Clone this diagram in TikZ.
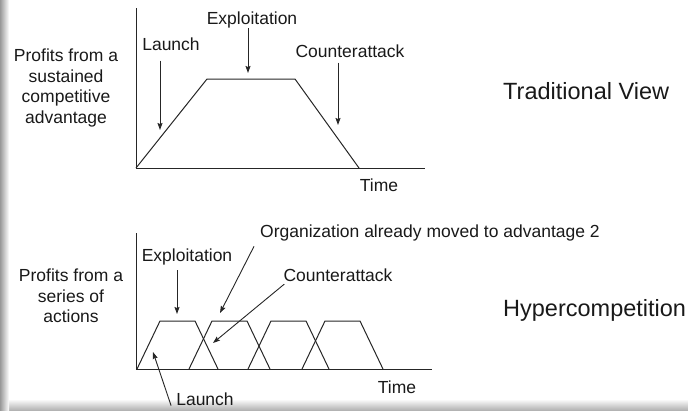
\documentclass[tikz,border=0pt]{standalone}
\usepackage{fontspec}
\setmainfont{Liberation Sans}
\usetikzlibrary{arrows.meta}

\begin{document}
\begin{tikzpicture}[x=1pt, y=-1pt,
    lbl/.style={font=\fontsize{17.5}{20.5}\selectfont, inner sep=0pt, text=black!90},
    ttl/.style={font=\fontsize{23.5}{28}\selectfont, inner sep=0pt, anchor=west, text=black!90},
    ptr/.style={-{Stealth[length=7pt, width=5pt, inset=1pt]}, line width=0.9pt, draw=black!85},
    curve/.style={line width=1pt, draw=black!85}]
    \def\trap#1{
        \draw[curve] (#1,369) -- ++(23,-48) -- ++(35,0) -- ++(23,48);
    }

    \useasboundingbox (0,0) rectangle (688,410);

    % Slide shadow
    \shade[top color=white, bottom color=gray!60] (0,399) rectangle (688,410);
    \shade[left color=gray!80, right color=white] (0,0) rectangle (9,410);

    % Traditional View
    \coordinate (o1) at (136,168);
    \draw[curve] (136,8) -- (o1) -- (425,168);
    \draw[curve] (o1) -- (207,79) -- (295,79) -- (359,168);

    \node[lbl, align=center] (prof1) at (66,88) {Profits from a\\sustained\\competitive\\advantage};
    \node[lbl] (launch1) at (171,44) {Launch};
    \node[lbl] (expl1) at (252,20) {Exploitation};
    \node[lbl] (count1) at (350,51) {Counterattack};
    \node[lbl] (time1) at (379,185) {Time};
    \node[ttl] (trad) at (503,91) {Traditional View};

    \coordinate (l1) at (160,130);
    \coordinate (e1) at (248,73);
    \coordinate (c1) at (338,125);
    \draw[ptr, shorten <=10pt] (launch1.south -| l1) -- (l1);
    \draw[ptr] (expl1.south -| e1) -- (e1);
    \draw[ptr, shorten <=5pt] (count1.south -| c1) -- (c1);

    % Hypercompetition
    \coordinate (o2) at (136,369);
    \draw[curve] (136,233) -- (o2) -- (432,369);
    \trap{137}
    \trap{189}
    \trap{248}
    \trap{302}

    \node[lbl, align=center] (prof2) at (71,296) {Profits from a\\series of\\actions};
    \node[lbl] (expl2) at (187,257) {Exploitation};
    \node[lbl, anchor=west] (org) at (260,233) {Organization already moved to advantage 2};
    \node[lbl] (count2) at (338,275) {Counterattack};
    \node[lbl] (launch2) at (205,399) {Launch};
    \node[lbl] (time2) at (397,387) {Time};
    \node[ttl] (hyper) at (503,310) {Hypercompetition};

    \coordinate (e2) at (177,314);
    \coordinate (g2) at (220,313);
    \coordinate (c2) at (213,343);
    \coordinate (l2) at (153,352);
    \draw[ptr, shorten <=5pt] (expl2.south -| e2) -- (e2);
    \draw[ptr] ([xshift=-6pt, yshift=-5pt]org.south west) -- (g2);
    \draw[ptr, shorten <=4pt] ([xshift=4pt]count2.south west) -- (c2);
    \draw[ptr] ([xshift=-5pt]launch2.south west) -- (l2);
\end{tikzpicture}
\end{document}
